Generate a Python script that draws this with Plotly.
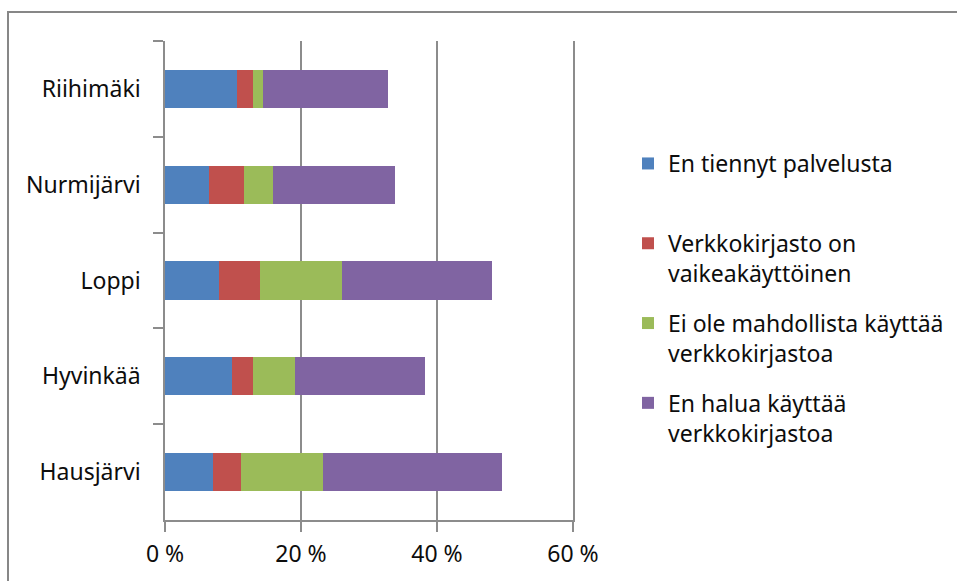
import plotly.graph_objects as go

# Kunnat ylhäältä alas
kunnat = ["Riihimäki", "Nurmijärvi", "Loppi", "Hyvinkää", "Hausjärvi"]

# Syyt (prosenttia vastaajista)
en_tiennyt = [10.6, 6.5, 8.0, 9.8, 7.1]
vaikeakayttoinen = [2.3, 5.1, 6.0, 3.1, 4.1]
ei_mahdollista = [1.5, 4.3, 12.0, 6.2, 12.0]
en_halua = [18.4, 17.9, 22.1, 19.2, 26.3]

sarjat = [
    ("En tiennyt palvelusta<br> ", en_tiennyt, "#4F81BD"),
    ("Verkkokirjasto on<br>vaikeakäyttöinen", vaikeakayttoinen, "#C0504D"),
    ("Ei ole mahdollista käyttää<br>verkkokirjastoa", ei_mahdollista, "#9BBB59"),
    ("En halua käyttää<br>verkkokirjastoa", en_halua, "#8064A2"),
]

FONT = "Noto Sans"
FS = 23
TEXT = "#0D0D0D"
GRID = "#8C8C8C"

fig = go.Figure()
for i, (nimi, arvot, vari) in enumerate(sarjat):
    fig.add_trace(go.Bar(
        y=kunnat, x=arvot, name=nimi, orientation="h",
        marker=dict(color=vari, line=dict(width=0)),
        legendgroup=f"g{i}",
    ))

W, H = 957, 581
L, R, T, B = 165, 384, 41, 61
pw, ph = W - L - R, H - T - B

fig.update_layout(
    width=W, height=H,
    margin=dict(l=L, r=R, t=T, b=B, autoexpand=False),
    barmode="stack", bargap=0.6,
    plot_bgcolor="white", paper_bgcolor="white",
    font=dict(family=FONT, size=FS, color=TEXT),
    legend=dict(
        x=(628 - L) / pw, xanchor="left",
        y=1 - (142 - T) / ph, yanchor="top",
        traceorder="grouped", tracegroupgap=17,
        valign="top",
        font=dict(family=FONT, size=FS, color=TEXT),
    ),
    xaxis=dict(
        range=[0, 60], dtick=20, ticksuffix=" %",
        showgrid=True, gridcolor=GRID, gridwidth=1.5,
        showline=True, linecolor=GRID, linewidth=1.5,
        ticks="outside", ticklen=10, tickcolor=GRID, tickwidth=1.5,
        ticklabelstandoff=3,
        zeroline=False, fixedrange=True,
    ),
    yaxis=dict(
        autorange="reversed",
        showgrid=False, showline=True, mirror=True,
        linecolor=GRID, linewidth=1.5,
        ticks="outside", ticklen=10, tickcolor=GRID, tickwidth=1.5,
        tickson="boundaries", ticklabelstandoff=18,
        fixedrange=True,
    ),
    shapes=[dict(
        type="rect", xref="paper", yref="paper",
        x0=(8 - L) / pw, x1=(W + 20 - L) / pw,
        y0=-(B + 20) / ph, y1=1 + (T - 12) / ph,
        line=dict(color="#878787", width=2), fillcolor="rgba(0,0,0,0)",
        layer="below",
    )],
)

fig.write_html("out.html")
